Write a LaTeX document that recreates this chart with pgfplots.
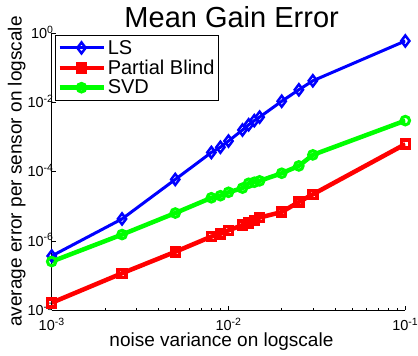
\documentclass[border=0pt]{standalone}
\usepackage{pgfplots}
\pgfplotsset{compat=1.18}
\usepackage{fontspec}
\setmainfont{Liberation Sans}
\definecolor{mblue}{rgb}{0,0,1}
\definecolor{mred}{rgb}{1,0,0}
\definecolor{mgreen}{rgb}{0,1,0}
\newcommand{\sps}[1]{\textsuperscript{\fontsize{10.5bp}{11bp}\selectfont #1}}
\newcommand{\lgf}{\fontsize{20bp}{22bp}\selectfont}
\begin{document}
\begin{tikzpicture}
\begin{axis}[
  scale only axis,
  width=353.6bp, height=277bp,
  xmode=log, ymode=log,
  xmin=1e-3, xmax=1e-1,
  ymin=1e-8, ymax=1,
  axis x line*=bottom, axis y line*=left,
  axis line style={line width=0.6bp},
  tick align=inside,
  major tick length=4bp, minor tick length=2.5bp,
  tick style={line width=0.5bp, black},
  xtick={1e-3,1e-2,1e-1},
  xticklabels={10\sps{-3},10\sps{-2},10\sps{-1}},
  ytick={1e-8,1e-6,1e-4,1e-2,1},
  yticklabels={10\sps{-8},10\sps{-6},10\sps{-4},10\sps{-2},10\sps{0}\hspace{7bp}},
  yminorticks=false,
  ticklabel style={font=\fontsize{14.5bp}{16bp}\selectfont},
  xticklabel style={anchor=base, yshift=-20.5bp},
  yticklabel style={anchor=base east, yshift=-5.4bp, xshift=2bp, inner xsep=0bp},
  every axis title/.style={at={(axis description cs:0.509,1)}, anchor=base, yshift=6bp,
    font=\fontsize{29bp}{32bp}\selectfont},
  title={Mean Gain Error},
  xlabel={noise variance on logscale},
  ylabel={average error per sensor on logscale},
  label style={font=\fontsize{19bp}{22bp}\selectfont},
  xlabel style={at={(axis description cs:0.48,-0.13)}, anchor=base},
  ylabel style={at={(axis description cs:-0.0848,0.5)}, anchor=base},
  legend style={at={(axis description cs:0.0095,0.993)}, anchor=north west, draw=black,
    font=\lgf, row sep=1.2bp, inner xsep=2bp, inner ysep=3.5bp,
    nodes={inner ysep=1.5bp, inner xsep=2bp}},
  legend cell align=left,
  legend image code/.code={\path (-7bp,0bp) -- (37bp,0bp);
    \draw[mark repeat=2,mark phase=2] plot coordinates {(0bp,0bp)(15bp,0bp)(30bp,0bp)};},
]
\addplot[color=mblue, line width=3bp, mark=diamond, mark size=5.5bp, mark options={solid, fill=white, line width=2.5bp}] coordinates {
(1e-3,3.63e-7) (2.5e-3,4.27e-6) (5e-3,5.89e-5) (8e-3,3.55e-4) (9e-3,5.01e-4) (1e-2,7.59e-4)
(1.2e-2,1.58e-3) (1.3e-2,2.24e-3) (1.4e-2,2.95e-3) (1.5e-2,3.72e-3) (2e-2,1.07e-2)
(2.5e-2,2.29e-2) (3e-2,4.17e-2) (1e-1,0.589)};
\addlegendentry{\lgf LS}
\addplot[color=mred, line width=4.5bp, mark=square, mark size=4bp, mark options={solid, fill=white, line width=3.5bp}] coordinates {
(1e-3,1.62e-8) (2.5e-3,1.15e-7) (5e-3,4.79e-7) (8e-3,1.32e-6) (9e-3,1.58e-6) (1e-2,2.0e-6)
(1.2e-2,2.82e-6) (1.3e-2,3.24e-6) (1.4e-2,3.8e-6) (1.5e-2,4.68e-6) (2e-2,6.76e-6)
(2.5e-2,1.32e-5) (3e-2,2.19e-5) (1e-1,6.17e-4)};
\addlegendentry{\lgf Partial Blind}
\addplot[color=mgreen, line width=4.5bp, mark=o, mark size=4.3bp, mark options={solid, fill=white, line width=3bp}] coordinates {
(1e-3,2.51e-7) (2.5e-3,1.51e-6) (5e-3,6.31e-6) (8e-3,1.74e-5) (9e-3,2.0e-5) (1e-2,2.51e-5)
(1.2e-2,3.31e-5) (1.3e-2,4.57e-5) (1.4e-2,4.9e-5) (1.5e-2,5.37e-5) (2e-2,8.91e-5)
(2.5e-2,1.45e-4) (3e-2,3.02e-4) (1e-1,2.95e-3)};
\addlegendentry{\lgf SVD}
\end{axis}
\pgfresetboundingbox
\path[use as bounding box] (-51.7bp,-46bp) rectangle (366.3bp,310bp);
\end{tikzpicture}
\end{document}
